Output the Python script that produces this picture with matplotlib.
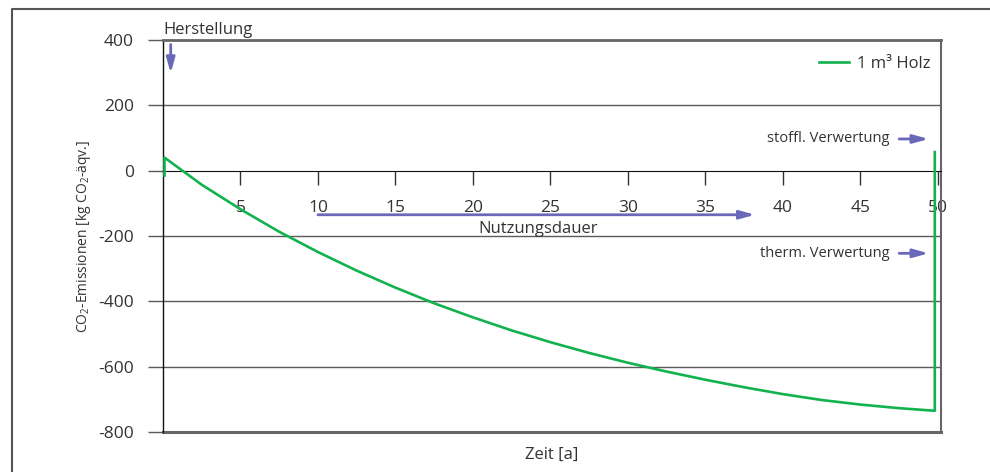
import matplotlib.pyplot as plt
from matplotlib.lines import Line2D

plt.rcParams['font.family'] = ['Open Sans', 'DejaVu Sans']
plt.rcParams['mathtext.fontset'] = 'custom'
plt.rcParams['mathtext.rm'] = 'Open Sans'
plt.rcParams['mathtext.it'] = 'Open Sans'
plt.rcParams['axes.unicode_minus'] = False

# CO2 curve for 1 m3 wood
years = [0.1, 0.1, 2.5, 5, 7.5, 10, 12.5, 15, 17.5, 20, 22.5, 25, 27.5, 30,
         32.5, 35, 37.5, 40, 42.5, 45, 47.5, 49.8, 49.8]
co2 = [-15, 40, -43, -118, -187, -249, -306, -358, -406, -449, -489, -525,
       -558, -588, -615, -640, -663, -684, -702, -716, -727, -735, 57]

x_ticks = [5, 10, 15, 20, 25, 30, 35, 40, 45, 50]
y_ticks = [400, 200, 0, -200, -400, -600, -800]

GREEN = '#12b24e'
PURPLE = '#6a68b8'
TEXT = '#333333'
GRID = '#5a5a5a'

fig = plt.figure(figsize=(9.9, 4.72), dpi=100)
ax = fig.add_axes([0.1646, 0.0847, 0.7859, 0.8306])

# outer frame (cut off at right and bottom)
fig.add_artist(Line2D([12 / 990, 12 / 990, 1.0], [0.0, 1 - 8.5 / 472, 1 - 8.5 / 472],
                      transform=fig.transFigure, color='#555555', lw=1.5))

ax.set_xlim(0, 50.2)
ax.set_ylim(-800, 400)

# gridlines
for v in [200, -200, -400, -600]:
    ax.axhline(v, color=GRID, lw=1, zorder=1)
ax.axhline(-800, color='#666666', lw=2.2, zorder=2, clip_on=False)

ax.plot(years, co2, color=GREEN, lw=1.9, label='1 m³ Holz', zorder=3)

# spines
ax.spines['bottom'].set_position(('data', 0))
ax.spines['bottom'].set_color('#111111')
ax.spines['left'].set_color('#111111')
ax.spines['left'].set_linewidth(1)
ax.spines['top'].set_color('#666666')
ax.spines['top'].set_linewidth(2)
ax.spines['right'].set_color('#666666')
ax.spines['right'].set_linewidth(1.5)

ax.set_xticks(x_ticks)
ax.set_xticklabels([str(t) for t in x_ticks])
ax.set_yticks(y_ticks)
ax.set_yticklabels([str(t) for t in y_ticks])
ax.tick_params(axis='x', direction='out', length=10, width=1, color='#333333',
               pad=11, labelsize=12.5, labelcolor=TEXT)
ax.tick_params(axis='y', direction='out', length=11, width=1, color=GRID,
               pad=10, labelsize=12.5, labelcolor=TEXT)

ax.text(0.5, -0.059, 'Zeit [a]', transform=ax.transAxes, ha='center', va='center',
        fontsize=12, color=TEXT)
ax.text(-0.1015, 0.5, r'CO$_2$-Emissionen [kg CO$_2$-äqv.]', transform=ax.transAxes,
        rotation=90, ha='center', va='center', fontsize=10, color=TEXT)

# annotations
arrow = dict(arrowstyle='-|>,head_length=0.9,head_width=0.25', color=PURPLE, lw=2,
             shrinkA=0, shrinkB=0)
ax.text(0.05, 432, 'Herstellung', ha='left', va='center', fontsize=12, color=TEXT,
        clip_on=False)
ax.annotate('', xy=(0.5, 298), xytext=(0.5, 386), arrowprops=arrow)

ax.annotate('', xy=(38.2, -135), xytext=(10, -135), arrowprops=arrow)
ax.text(24.2, -180, 'Nutzungsdauer', ha='center', va='center', fontsize=12, color=TEXT)

ax.annotate('', xy=(49.4, 97), xytext=(47.5, 97), arrowprops=arrow)
ax.text(46.9, 97, 'stoffl. Verwertung', ha='right', va='center', fontsize=10.5, color=TEXT)
ax.annotate('', xy=(49.4, -253), xytext=(47.5, -253), arrowprops=arrow)
ax.text(46.9, -253, 'therm. Verwertung', ha='right', va='center', fontsize=10.5, color=TEXT)

leg = ax.legend(loc='upper right', bbox_to_anchor=(1.006, 0.997), frameon=False,
                fontsize=12, handlelength=1.8, handletextpad=0.5)
for t in leg.get_texts():
    t.set_color(TEXT)

fig.savefig('out.png', dpi=100)
